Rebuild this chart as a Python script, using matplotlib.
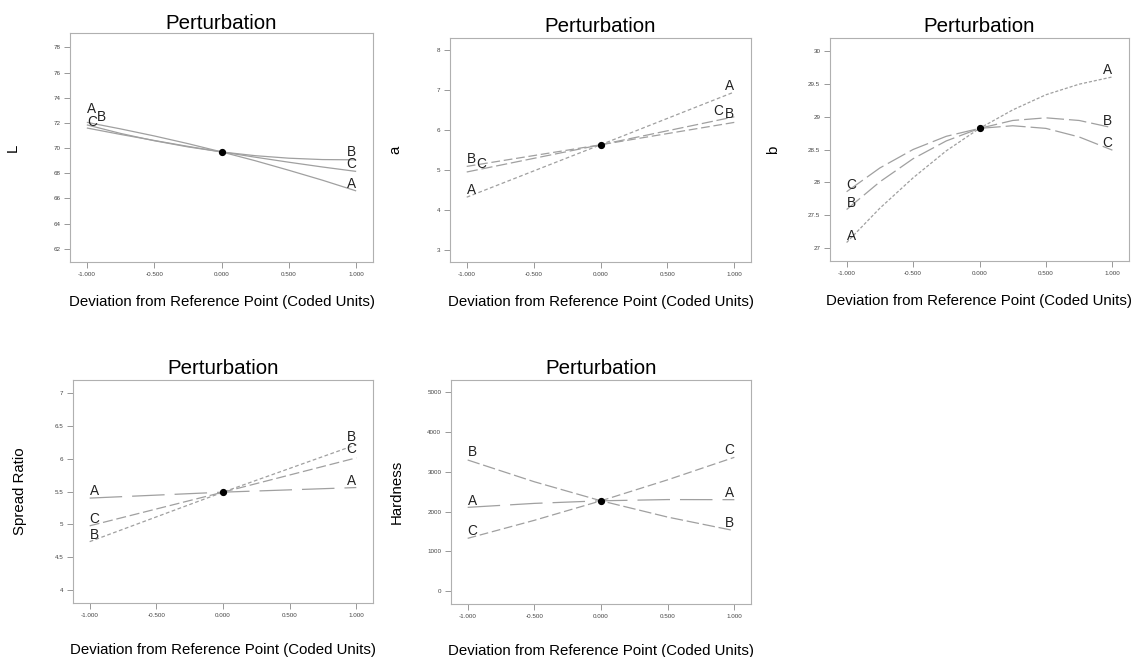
import matplotlib.pyplot as plt

W, H = 1131, 657
PX = 72 / 100  # points per pixel at dpi 100

# Deviation from reference point (coded units)
x_fine = [-1, -0.75, -0.5, -0.25, 0, 0.25, 0.5, 0.75, 1]
x_mid = [-1, -0.5, 0, 0.5, 1]
x_end = [-1, 0, 1]

# L
L_A = [72.05, 71.53, 70.97, 70.36, 69.7, 69.00, 68.24, 67.45, 66.6]
L_B = [71.85, 71.17, 70.59, 70.10, 69.7, 69.40, 69.20, 69.09, 69.07]
L_C = [71.6, 71.09, 70.61, 70.14, 69.7, 69.28, 68.88, 68.50, 68.15]

# a
a_A = [4.32, 5.63, 6.95]
a_B = [5.09, 5.63, 6.19]
a_C = [4.95, 5.63, 6.33]

# b
b_A = [27.09, 27.61, 28.07, 28.48, 28.82, 29.10, 29.33, 29.49, 29.60]
b_B = [27.59, 28.01, 28.36, 28.63, 28.82, 28.94, 28.98, 28.94, 28.83]
b_C = [27.86, 28.22, 28.50, 28.70, 28.82, 28.86, 28.82, 28.69, 28.49]

# Spread Ratio
sr_A = [5.40, 5.49, 5.56]
sr_B = [4.74, 5.49, 6.21]
sr_C = [4.98, 5.49, 6.01]

# Hardness
h_A = [2105, 2205, 2270, 2301, 2298]
h_B = [3297, 2749, 2270, 1860, 1518]
h_C = [1325, 1779, 2270, 2798, 3364]

x_ticks = [-1, -0.5, 0, 0.5, 1]
x_ticklabels = ["-1.000", "-0.500", "0.000", "0.500", "1.000"]

L_ticks = [62, 64, 66, 68, 70, 72, 74, 76, 78]
a_ticks = [3, 4, 5, 6, 7, 8]
b_ticks = [27, 27.5, 28, 28.5, 29, 29.5, 30]
sr_ticks = [4, 4.5, 5, 5.5, 6, 6.5, 7]
h_ticks = [0, 1000, 2000, 3000, 4000, 5000]

LINE_COLOR = "#a0a0a0"
SOLID = (0, ())


def make_axes(fig, box):
    left, top, right, bottom = box
    return fig.add_axes([left / W, 1 - bottom / H, (right - left) / W, (bottom - top) / H])


def draw_panel(ax, x, series, ylabel, ylim, yticks, yticklabels, styles, offsets,
               ylabel_px, xlabel_y, title_pad):
    for name, y in series.items():
        ax.plot(x, y, color=LINE_COLOR, lw=0.9, linestyle=styles[name],
                solid_capstyle="butt", dash_capstyle="butt")
        (ldx, ldy), (rdx, rdy) = offsets[name]
        ax.annotate(name, xy=(x[0], y[0]), xytext=(ldx * PX, ldy * PX),
                    textcoords="offset points", ha="left", va="baseline",
                    fontsize=9.8, color="#222222")
        ax.annotate(name, xy=(x[-1], y[-1]), xytext=(rdx * PX, rdy * PX),
                    textcoords="offset points", ha="right", va="baseline",
                    fontsize=9.8, color="#222222")

    # reference point
    center = list(series.values())[0][x.index(0)]
    ax.plot([0], [center], marker="o", ms=4.2, color="black", zorder=5)

    ax.set_xlim(-1.125, 1.125)
    ax.set_ylim(*ylim)
    ax.set_xticks(x_ticks)
    ax.set_xticklabels(x_ticklabels)
    ax.set_yticks(yticks)
    ax.set_yticklabels(yticklabels)
    ax.tick_params(labelsize=4.5, labelcolor="#444444", color="#888888",
                   length=4, width=0.6, pad=3)
    for spine in ax.spines.values():
        spine.set_color("#b0b0b0")
        spine.set_linewidth(0.8)

    ax.set_title("Perturbation", fontsize=14.8, pad=title_pad)
    ax.set_xlabel("Deviation from Reference Point (Coded Units)", fontsize=10.8, va="center")
    ax.set_ylabel(ylabel, fontsize=10.8, va="center")

    bbox = ax.get_position()
    w_px = bbox.width * W
    h_px = bbox.height * H
    ax.yaxis.set_label_coords(-ylabel_px / w_px, 0.5)
    ax.xaxis.set_label_coords(0.5, -xlabel_y / h_px)


plt.rcParams["font.family"] = ["Liberation Sans", "DejaVu Sans"]

fig = plt.figure(figsize=(W / 100, H / 100), dpi=100)
fig.patch.set_facecolor("white")

fmt = lambda vals: [f"{v:g}" for v in vals]

# L panel
ax = make_axes(fig, (70, 33, 373, 262))
draw_panel(
    ax, x_fine, {"A": L_A, "B": L_B, "C": L_C}, "L", (60.95, 79.15),
    L_ticks, fmt(L_ticks),
    {"A": SOLID, "B": SOLID, "C": SOLID},
    {"A": ((0, 9), (0, 3)), "B": ((10, 4), (0, 4)), "C": ((0, 2), (0, 3))},
    57, 40, 2.5,
)

# a panel
ax = make_axes(fig, (450, 38, 751, 262))
draw_panel(
    ax, x_end, {"A": a_A, "B": a_B, "C": a_C}, "a", (2.7, 8.3),
    a_ticks, fmt(a_ticks),
    {"A": (0, (3, 2)), "B": (0, (7, 3)), "C": (0, (9, 3))},
    {"A": ((0, 3.5), (0, 2)), "B": ((0, 3), (0, 4)), "C": ((10, 4.5), (-11, 2))},
    55, 40, 4.5,
)

# b panel
ax = make_axes(fig, (830, 38, 1129, 261))
draw_panel(
    ax, x_fine, {"A": b_A, "B": b_B, "C": b_C}, "b", (26.81, 30.19),
    b_ticks, fmt(b_ticks),
    {"A": (0, (2.5, 1.5)), "B": (0, (14, 4)), "C": (0, (16, 4))},
    {"A": ((0, 2.5), (0, 2.5)), "B": ((0, 2.5), (0, 3)), "C": ((0, 3), (0, 3))},
    57, 40, 4.5,
)

# Spread Ratio panel
ax = make_axes(fig, (73, 380, 373, 603))
draw_panel(
    ax, x_end, {"A": sr_A, "B": sr_B, "C": sr_C}, "Spread Ratio", (3.81, 7.19),
    sr_ticks, fmt(sr_ticks),
    {"A": (0, (26, 8)), "B": (0, (3, 2)), "C": (0, (8, 3))},
    {"A": ((0, 3), (0, 2.5)), "B": ((0, 3), (0, 4)), "C": ((0, 3), (0, 4.5))},
    53, 47, 4,
)

# Hardness panel
ax = make_axes(fig, (451, 380, 751, 604))
draw_panel(
    ax, x_mid, {"A": h_A, "B": h_B, "C": h_C}, "Hardness", (-327, 5310),
    h_ticks, fmt(h_ticks),
    {"A": (0, (26, 8)), "B": (0, (10, 3)), "C": (0, (7, 3))},
    {"A": ((0, 2), (0, 3)), "B": ((0, 4), (0, 4)), "C": ((0, 3), (0, 3))},
    54, 47, 4,
)

fig.savefig("out.png", dpi=100)
plt.close()
